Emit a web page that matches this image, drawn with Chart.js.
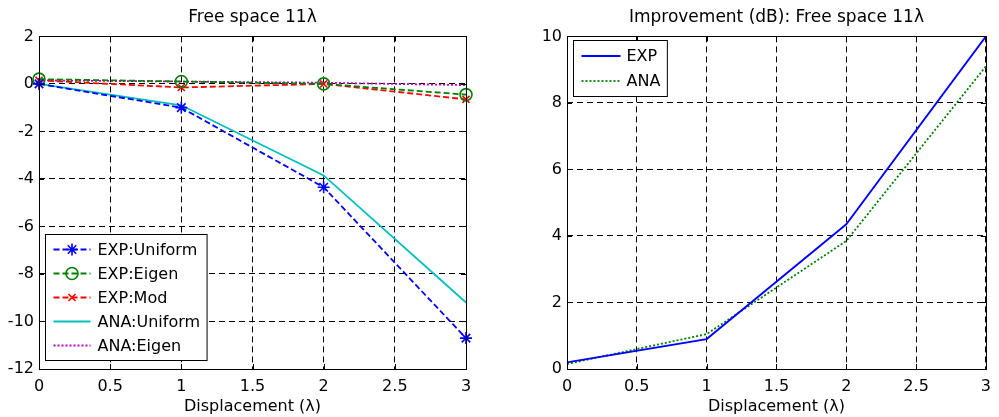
<!DOCTYPE html>
<html>
<head>
<meta charset="utf-8">
<script src="https://cdn.jsdelivr.net/npm/chart.js@4/dist/chart.umd.min.js"></script>
<style>
    body { margin: 0; background: #fff; }
    canvas { position: absolute; top: 0; }
</style>
</head>
<body>
<canvas id="left-chart" width="500" height="417" style="left:0"></canvas>
<canvas id="right-chart" width="499" height="417" style="left:500px"></canvas>
<script>
// displacement in wavelengths
const displacement = [0, 1, 2, 3];
// left: free space 11 lambda
const expUniform = [0, -1.0, -4.35, -10.7];
const expEigen = [0.2, 0.1, 0.0, -0.45];
const expMod = [0.15, -0.15, 0.0, -0.65];
const anaUniform = [0, -0.9, -3.85, -9.2];
const anaEigen = [0.15, 0.1, 0.05, -0.05];
// right: improvement (dB)
const impExp = [0.2, 0.9, 4.35, 10.0];
const impAna = [0.15, 1.05, 3.85, 9.1];
// ticks
const xTicks = [0, 0.5, 1, 1.5, 2, 2.5, 3];
const leftYTicks = [-12, -10, -8, -6, -4, -2, 0, 2];
const rightYTicks = [0, 2, 4, 6, 8, 10];

const FONT = "'DejaVu Sans', sans-serif";
const FSIZE = 16;

let toPoints = (ys) => displacement.map((x, i) => ({x: x, y: ys[i]}));

// box round the plot + inner tick marks, like matlab
const framePlugin = {
    id: "frame",
    afterDatasetsDraw(chart) {
        const {ctx, chartArea: a, scales} = chart;
        ctx.save();
        ctx.strokeStyle = "#000";
        ctx.lineWidth = 1;
        ctx.setLineDash([]);
        ctx.beginPath();
        scales.x.ticks.forEach(t => {
            let px = Math.round(scales.x.getPixelForValue(t.value)) + 0.5;
            ctx.moveTo(px, a.bottom); ctx.lineTo(px, a.bottom - 5);
            ctx.moveTo(px, a.top); ctx.lineTo(px, a.top + 5);
        });
        scales.y.ticks.forEach(t => {
            let py = Math.round(scales.y.getPixelForValue(t.value)) + 0.5;
            ctx.moveTo(a.left, py); ctx.lineTo(a.left + 5, py);
            ctx.moveTo(a.right, py); ctx.lineTo(a.right - 5, py);
        });
        ctx.stroke();
        ctx.strokeRect(Math.round(a.left) + 0.5, Math.round(a.top) + 0.5, Math.round(a.right - a.left), Math.round(a.bottom - a.top));
        ctx.restore();
    }
};

// legend drawn inside the axes
const boxLegendPlugin = {
    id: "boxLegend",
    afterDraw(chart, args, opts) {
        const {ctx, chartArea: a} = chart;
        const sets = chart.data.datasets;
        ctx.save();
        ctx.font = FSIZE + "px " + FONT;
        let maxW = 0;
        sets.forEach(ds => { maxW = Math.max(maxW, ctx.measureText(ds.label).width); });
        const rowH = opts.rowHeight;
        const w = opts.textOffset + maxW + 7;
        const h = sets.length * rowH + 6;
        const x0 = Math.round(a.left + opts.dx) + 0.5;
        const y0 = Math.round(opts.anchor === "bottom" ? a.bottom - opts.dy - h : a.top + opts.dy) + 0.5;
        ctx.fillStyle = "#fff";
        ctx.fillRect(x0, y0, w, h);
        ctx.strokeStyle = "#000";
        ctx.lineWidth = 1;
        ctx.setLineDash([]);
        ctx.strokeRect(x0, y0, w, h);
        sets.forEach((ds, i) => {
            let cy = y0 + 3 + rowH * i + rowH / 2;
            ctx.strokeStyle = ds.borderColor;
            ctx.lineWidth = ds.borderWidth;
            ctx.setLineDash(ds.borderDash || []);
            ctx.beginPath();
            ctx.moveTo(x0 + 8, cy);
            ctx.lineTo(x0 + 8 + opts.lineLen, cy);
            ctx.stroke();
            ctx.setLineDash([]);
            if (ds.pointRadius > 0) {
                ctx.fillStyle = "rgba(0,0,0,0)";
                ctx.strokeStyle = ds.pointBorderColor || ds.borderColor;
                ctx.lineWidth = ds.pointBorderWidth || 1.5;
                Chart.helpers.drawPoint(ctx, {
                    pointStyle: ds.pointStyle,
                    radius: ds.pointRadius,
                    rotation: 0,
                    borderWidth: ctx.lineWidth
                }, x0 + 8 + opts.lineLen / 2, cy);
            }
            ctx.fillStyle = "#000";
            ctx.textBaseline = "middle";
            ctx.fillText(ds.label, x0 + opts.textOffset, cy + 1);
        });
        ctx.restore();
    }
};

function axisOptions(yTicks, yWidth) {
    return {
        x: {
            type: "linear",
            min: 0,
            max: 3,
            afterBuildTicks: (scale) => { scale.ticks = xTicks.map(v => ({value: v})); },
            afterFit: (scale) => { scale.height = 48; },
            grid: { color: "#000", lineWidth: 1, drawTicks: false },
            border: { display: false, dash: [6, 4] },
            ticks: { color: "#000", padding: 8, font: { family: FONT, size: FSIZE }, callback: (v) => String(v) },
            title: {
                display: true,
                text: "Displacement (λ)",
                color: "#000",
                padding: { top: 2, bottom: 1 },
                font: { family: FONT, size: FSIZE }
            }
        },
        y: {
            type: "linear",
            min: yTicks[0],
            max: yTicks[yTicks.length - 1],
            afterBuildTicks: (scale) => { scale.ticks = yTicks.map(v => ({value: v})); },
            afterFit: (scale) => { scale.width = yWidth; },
            grid: { color: "#000", lineWidth: 1, drawTicks: false },
            border: { display: false, dash: [6, 4] },
            ticks: { color: "#000", padding: 5, font: { family: FONT, size: FSIZE }, callback: (v) => String(v) }
        }
    };
}

function baseOptions(title, yTicks, yWidth, rightPad, legendOpts) {
    return {
        responsive: false,
        animation: false,
        devicePixelRatio: 1,
        layout: { padding: { left: 0, right: rightPad, top: 0, bottom: 0 } },
        plugins: {
            legend: { display: false },
            tooltip: { enabled: false },
            title: {
                display: true,
                text: title,
                color: "#000",
                fullSize: false,
                padding: { top: 7, bottom: 9 },
                font: { family: FONT, size: 17, weight: "normal", lineHeight: 1.2 }
            },
            boxLegend: legendOpts
        },
        scales: axisOptions(yTicks, yWidth)
    };
}

function line(label, ys, color, dash, style, radius) {
    return {
        label: label,
        data: toPoints(ys),
        borderColor: color,
        borderWidth: 1.8,
        borderDash: dash,
        pointStyle: style || "circle",
        pointRadius: radius || 0,
        pointBorderColor: color,
        pointBorderWidth: 1.6,
        pointBackgroundColor: "rgba(0,0,0,0)",
        fill: false,
        tension: 0,
        clip: false
    };
}

new Chart(document.getElementById("left-chart"), {
    type: "line",
    data: {
        datasets: [
            line("EXP:Uniform", expUniform, "#0000ff", [6, 3], "star", 6),
            line("EXP:Eigen", expEigen, "#008000", [6, 3], "circle", 6),
            line("EXP:Mod", expMod, "#ff0000", [6, 3], "crossRot", 5),
            line("ANA:Uniform", anaUniform, "#00bfbf", []),
            line("ANA:Eigen", anaEigen, "#bf00bf", [2, 2])
        ]
    },
    options: baseOptions("Free space 11λ", leftYTicks, 39, 34,
        { anchor: "bottom", dx: 6, dy: 9, rowHeight: 24, lineLen: 37, textOffset: 52 }),
    plugins: [framePlugin, boxLegendPlugin]
});

new Chart(document.getElementById("right-chart"), {
    type: "line",
    data: {
        datasets: [
            line("EXP", impExp, "#0000ff", []),
            line("ANA", impAna, "#008000", [2, 2])
        ]
    },
    options: baseOptions("Improvement (dB): Free space 11λ", rightYTicks, 67, 6,
        { anchor: "top", dx: 6, dy: 4, rowHeight: 25, lineLen: 39, textOffset: 53 }),
    plugins: [framePlugin, boxLegendPlugin]
});
</script>
</body>
</html>
